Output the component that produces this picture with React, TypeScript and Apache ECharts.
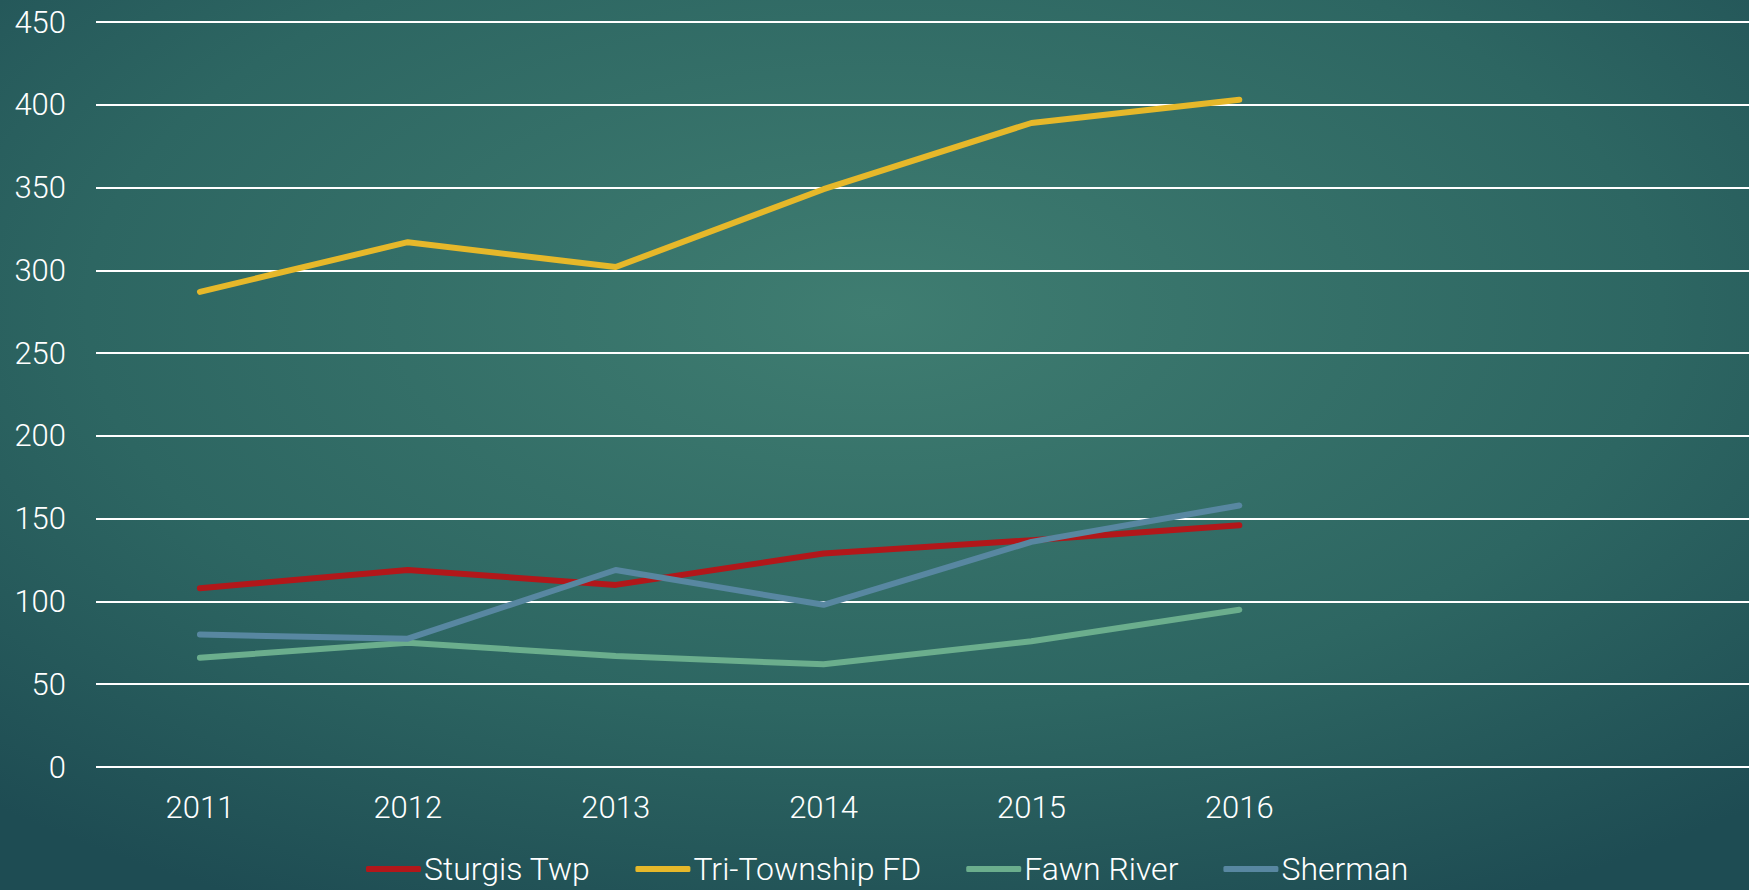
import React, { useEffect, useRef } from "react";
import * as echarts from "echarts";

const categories = ["2011", "2012", "2013", "2014", "2015", "2016", "", " "];
const seriesNames = ["Sturgis Twp", "Tri-Township FD", "Fawn River", "Sherman"];
const sturgisTwp = [108, 119, 110, 129, 137, 146];
const triTownship = [287, 317, 302, 349, 389, 403];
const fawnRiver = [66, 75, 67, 62, 76, 95];
const sherman = [80, 77.5, 119, 98, 136, 158];
const seriesColors = ["#B2171A", "#E6B82A", "#6BAE8D", "#5887A1"];

export default function App() {
  const ref = useRef<HTMLDivElement>(null);
  useEffect(() => {
    document.body.style.margin = "0";
    const chart = echarts.init(ref.current!, null, { renderer: "svg" });
    const values = [sturgisTwp, triTownship, fawnRiver, sherman];
    const font = "Roboto, 'Noto Sans', sans-serif";
    chart.setOption({
      animation: false,
      backgroundColor: {
        type: "radial",
        x: 0.5,
        y: 0.35,
        r: 0.75,
        colorStops: [
          { offset: 0, color: "#3F7D71" },
          { offset: 0.6, color: "#2D6662" },
          { offset: 1, color: "#1E4C53" },
        ],
      },
      grid: { left: 96, right: -10, top: 22, bottom: 123, containLabel: false, outerBoundsMode: "none" },
      legend: {
        data: seriesNames,
        left: 361,
        top: 848,
        icon: "roundRect",
        itemWidth: 55,
        itemHeight: 6,
        itemGap: 45,
        textStyle: { color: "#FFFFFF", fontSize: 32, fontFamily: font, fontWeight: 300, padding: [0, 0, 0, -2] },
      },
      xAxis: {
        type: "category",
        data: categories,
        boundaryGap: true,
        axisLine: { show: false },
        axisTick: { show: false },
        axisLabel: { color: "#FFFFFF", fontSize: 31, fontFamily: font, fontWeight: 300, margin: 25 },
      },
      yAxis: {
        type: "value",
        min: 0,
        max: 450,
        interval: 50,
        axisLine: { show: false },
        axisTick: { show: false },
        axisLabel: { color: "#FFFFFF", fontSize: 31, fontFamily: font, fontWeight: 300, margin: 30 },
        splitLine: { lineStyle: { color: "#FFFFFF", width: 2 } },
      },
      series: seriesNames.map((name, i) => ({
        name,
        type: "line",
        data: values[i],
        showSymbol: false,
        symbol: "none",
        color: seriesColors[i],
        lineStyle: { color: seriesColors[i], width: 6, cap: "round", join: "round" },
      })),
    });
    return () => chart.dispose();
  }, []);
  return <div ref={ref} style={{ width: 1749, height: 890 }} />;
}
